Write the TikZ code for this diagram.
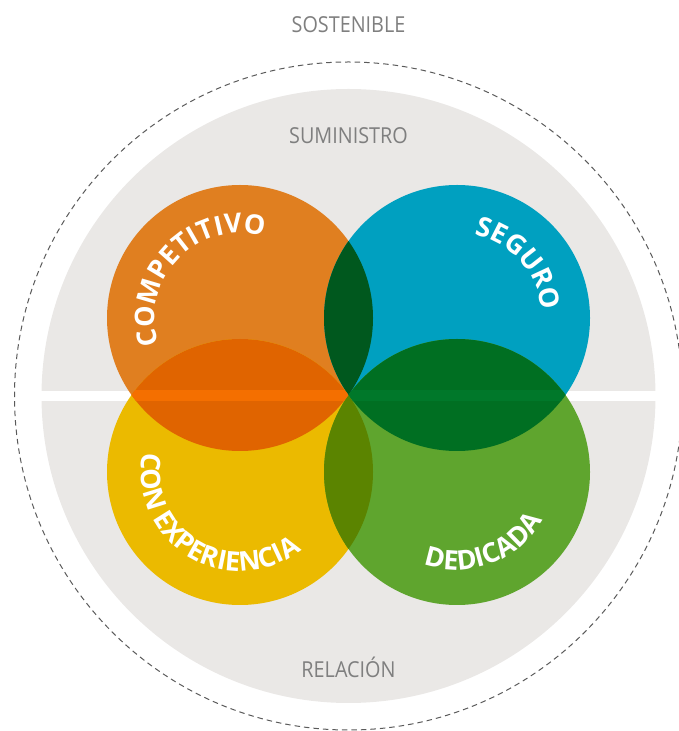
\documentclass[tikz,border=0pt]{standalone}
\usepackage{fontspec}
\usetikzlibrary{decorations.text,calc}
\newfontfamily\graylab{Open Sans}[FakeStretch=0.9]
\newfontfamily\whitelab{Open Sans}
\definecolor{graybg}{HTML}{EAE8E6}
\definecolor{dashcol}{HTML}{5A5A5A}
\definecolor{labgray}{HTML}{7F7F7F}
\definecolor{corange}{HTML}{E07F20}
\definecolor{cblue}{HTML}{00A0C0}
\definecolor{cyellow}{HTML}{EBBA00}
\definecolor{cgreen}{HTML}{5FA52E}
\definecolor{loy}{HTML}{E06400}
\definecolor{lob}{HTML}{00581E}
\definecolor{lbg}{HTML}{006F22}
\definecolor{lyg}{HTML}{5B8400}
\definecolor{boy}{HTML}{F46F00}
\definecolor{bbg}{HTML}{00782A}
\tikzset{
  graytext/.style={font=\graylab\fontsize{22}{22}\selectfont, text=labgray, anchor=base, inner sep=0pt},
}
\newcommand{\rr}{133}
\begin{document}
\begin{tikzpicture}[x=1pt,y=1pt]
\useasboundingbox (0,0) rectangle (679,731);
\coordinate (ctr) at (348.5,335);
\coordinate (O) at (240,413);
\coordinate (B) at (457,413);
\coordinate (Y) at (240,259);
\coordinate (G) at (457,259);
% outer dashed and gray disc
\draw[dashcol, line width=1pt, dash pattern=on 5.5pt off 4pt] (ctr) circle (334);
\fill[graybg] (ctr) circle (307);
\begin{scope}
  \clip (ctr) circle (307.5);
  \fill[white] (0,330) rectangle (679,340);
\end{scope}
% circles
\fill[corange] (O) circle (\rr);
\fill[cblue] (B) circle (\rr);
\fill[cyellow] (Y) circle (\rr);
\fill[cgreen] (G) circle (\rr);
% lenses
\begin{scope}\clip (O) circle (\rr); \fill[loy] (Y) circle (\rr); \end{scope}
\begin{scope}\clip (O) circle (\rr); \fill[lob] (B) circle (\rr); \end{scope}
\begin{scope}\clip (B) circle (\rr); \fill[lbg] (G) circle (\rr); \end{scope}
\begin{scope}\clip (Y) circle (\rr); \fill[lyg] (G) circle (\rr); \end{scope}
% lighter band inside lenses
\begin{scope}\clip (0,330) rectangle (679,340); \clip (O) circle (\rr); \fill[boy] (Y) circle (\rr); \end{scope}
\begin{scope}\clip (0,330) rectangle (679,340); \clip (B) circle (\rr); \fill[bbg] (G) circle (\rr); \end{scope}
% gray labels
\node[graytext] (sost) at (348.5,698) {SOSTENIBLE};
\node[graytext] (sumi) at (348.5,587) {SUMINISTRO};
\node[graytext] (rela) at (348.5,53) {RELACIÓN};
% curved labels
\path[decorate, decoration={text along path, text align=center, text color=white,
  text={|\whitelab\bfseries\fontsize{27}{27}\selectfont|COMPETITIVO}}]
  ($(O)+(226:85)$) arc[start angle=226, end angle=46, radius=85];
\path[decorate, decoration={text along path, text align=center, text color=white,
  text={|\whitelab\bfseries\fontsize{27}{27}\selectfont|SEGURO}}]
  ($(B)+(131.5:85)$) arc[start angle=131.5, end angle=-48.5, radius=85];
\path[decorate, decoration={text along path, text align=center, text color=white,
  text={|\whitelab\bfseries\fontsize{27}{27}\selectfont|CON EXPERIENCIA}}]
  ($(Y)+(138.5:99)$) arc[start angle=138.5, end angle=338.5, radius=99];
\path[decorate, decoration={text along path, text align=center, text color=white,
  text={|\whitelab\bfseries\fontsize{27}{27}\selectfont|DEDICADA}}]
  ($(G)+(200.5:98)$) arc[start angle=200.5, end angle=380.5, radius=98];
\end{tikzpicture}
\end{document}
